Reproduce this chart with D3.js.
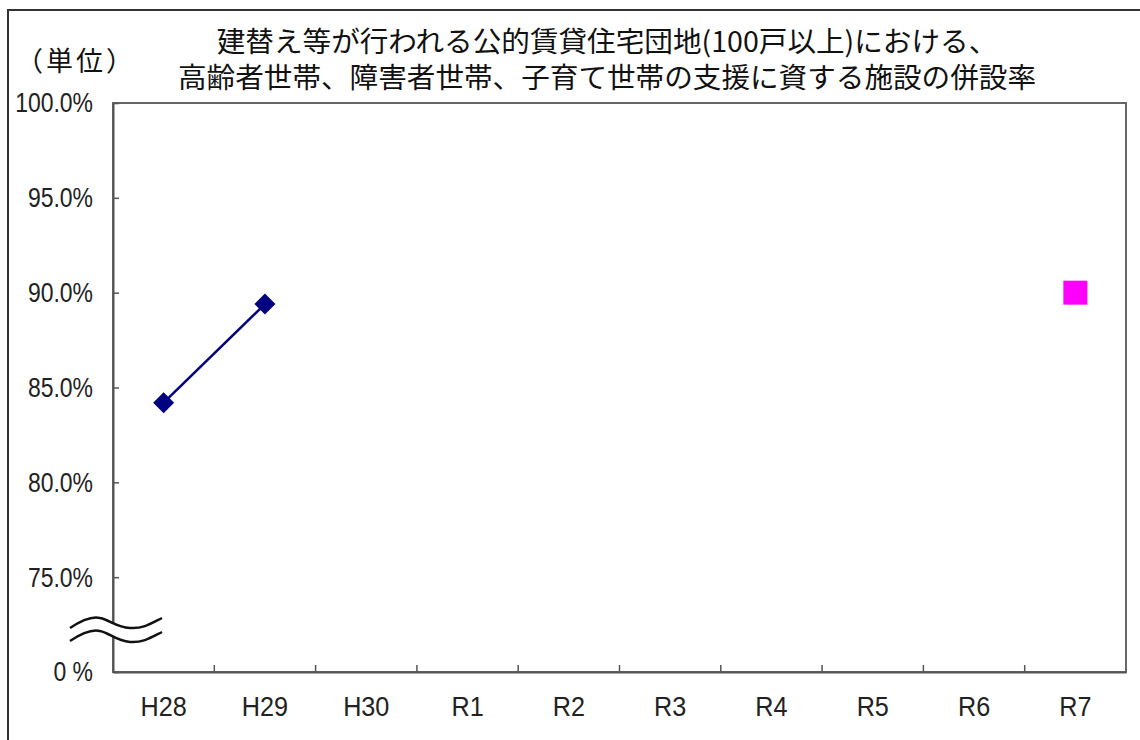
<!DOCTYPE html>
<html><head><meta charset="utf-8">
<script src="https://cdn.jsdelivr.net/npm/d3@7"></script>
<style>
html,body{margin:0;padding:0;background:#fff;}
svg{display:block;}
</style></head>
<body>
<svg id="chart" width="1140" height="740"></svg>
<script>
const categories = ["H28","H29","H30","R1","R2","R3","R4","R5","R6","R7"];
const actualValues = [84.2, 89.4, null, null, null, null, null, null, null, null];
const targetValues = [null, null, null, null, null, null, null, null, null, 90.0];
const yTickValues = [70, 75, 80, 85, 90, 95, 100];
const yTickLabels = ["0 %", "75.0%", "80.0%", "85.0%", "90.0%", "95.0%", "100.0%"];
const titleLines = ["建替え等が行われる公的賃貸住宅団地(100戸以上)における、",
                    "高齢者世帯、障害者世帯、子育て世帯の支援に資する施設の併設率"];
const unitLabel = "（単位）";

const svg = d3.select("#chart");
const L = 113, R = 1126, T = 103, B = 672;
const x = d3.scaleBand().domain(categories).range([L, R]).padding(0);
const y = d3.scaleLinear().domain([70, 100]).range([B, T]);
const latin = "'Liberation Sans', Arial, sans-serif";
const cjk = "'Noto Sans CJK JP', 'Noto Sans CJK SC', sans-serif";

// outer frame
svg.append("path").attr("d", `M8,740 L8,10 L1140,10`)
  .attr("fill","none").attr("stroke","#333").attr("stroke-width",2);

// title
const tg = svg.append("g").attr("font-family", cjk).attr("font-size", 28).attr("fill","#111");
const t1 = tg.append("text").attr("x", 607).attr("y", 52).attr("text-anchor","middle").text(titleLines[0]);
const t2 = tg.append("text").attr("x", 607).attr("y", 88).attr("text-anchor","middle").text(titleLines[1]);
const n1 = t1.node().getComputedTextLength(), n2 = t2.node().getComputedTextLength();
const ratio = 858 / n2;
t2.attr("textLength", 858).attr("lengthAdjust","spacingAndGlyphs");
t1.attr("textLength", n1 * ratio).attr("lengthAdjust","spacingAndGlyphs");

svg.append("text").attr("x", 16).attr("y", 71).attr("font-family", cjk).attr("font-size", 27)
  .attr("fill","#111").attr("letter-spacing", 3).text(unitLabel);

// plot border
svg.append("rect").attr("x", L).attr("y", T).attr("width", R - L).attr("height", B - T)
  .attr("fill","#fff").attr("stroke","#666").attr("stroke-width",2);

// y axis
const yAxis = d3.axisLeft(y).tickValues(yTickValues)
  .tickFormat((d,i) => yTickLabels[i]).tickSizeInner(-6).tickSizeOuter(0).tickPadding(20);
const yg = svg.append("g").attr("transform", `translate(${L},0)`).call(yAxis);
yg.select(".domain").attr("stroke","#555").attr("stroke-width",2);
yg.selectAll(".tick line").attr("stroke","#555").attr("stroke-width",1.5);
yg.selectAll(".tick text").attr("font-family", latin).attr("font-size", 28).attr("fill","#222")
  .each(function(){ const w = this.getComputedTextLength(); d3.select(this).attr("textLength", w*0.82).attr("lengthAdjust","spacingAndGlyphs"); });

// x axis labels
const xAxis = d3.axisBottom(x).tickSize(0).tickPadding(24);
const xg = svg.append("g").attr("transform", `translate(0,${B})`).call(xAxis);
xg.select(".domain").attr("stroke","#555").attr("stroke-width",2);
xg.selectAll(".tick text").attr("font-family", latin).attr("font-size", 28).attr("fill","#222")
  .each(function(){ const w = this.getComputedTextLength(); d3.select(this).attr("textLength", w*0.9).attr("lengthAdjust","spacingAndGlyphs"); });
// x boundary ticks
svg.append("g").selectAll("line").data(categories.slice(1)).join("line")
  .attr("x1", d => x(d)).attr("x2", d => x(d)).attr("y1", B).attr("y2", B - 7)
  .attr("stroke","#555").attr("stroke-width",1.5);

// axis break
const up = "M70,628 C82,620 92,616 100,618 C110,620 116,627 130,628 C143,629 152,623 162,618";
const lo = "M70,641 C82,633 92,629 100,631 C110,633 116,641 130,642 C143,643 152,637 162,632";
svg.append("path").attr("d", up + " L162,632 C152,637 143,643 130,642 C116,641 110,633 100,631 C92,629 82,633 70,641 Z")
  .attr("fill","#fff").attr("stroke","none");
svg.append("path").attr("d", up).attr("fill","none").attr("stroke","#111").attr("stroke-width",2.5);
svg.append("path").attr("d", lo).attr("fill","none").attr("stroke","#111").attr("stroke-width",2.5);

// actual line
const cx = d => x(d) + x.bandwidth()/2;
const actualData = categories.map((c,i) => ({c, v: actualValues[i]})).filter(d => d.v != null);
svg.append("path").datum(actualData)
  .attr("d", d3.line().x(d => cx(d.c)).y(d => y(d.v)))
  .attr("fill","none").attr("stroke","#000080").attr("stroke-width",2.5);
svg.append("g").selectAll("path").data(actualData).join("path")
  .attr("transform", d => `translate(${cx(d.c)},${y(d.v)}) rotate(45)`)
  .attr("d", d3.symbol().type(d3.symbolSquare).size(220)())
  .attr("fill","#000080");

// target marker
const targetData = categories.map((c,i) => ({c, v: targetValues[i]})).filter(d => d.v != null);
svg.append("g").selectAll("path").data(targetData).join("path")
  .attr("transform", d => `translate(${cx(d.c)},${y(d.v)})`)
  .attr("d", d3.symbol().type(d3.symbolSquare).size(576)())
  .attr("fill","#ff00ff");
</script>
</body></html>
